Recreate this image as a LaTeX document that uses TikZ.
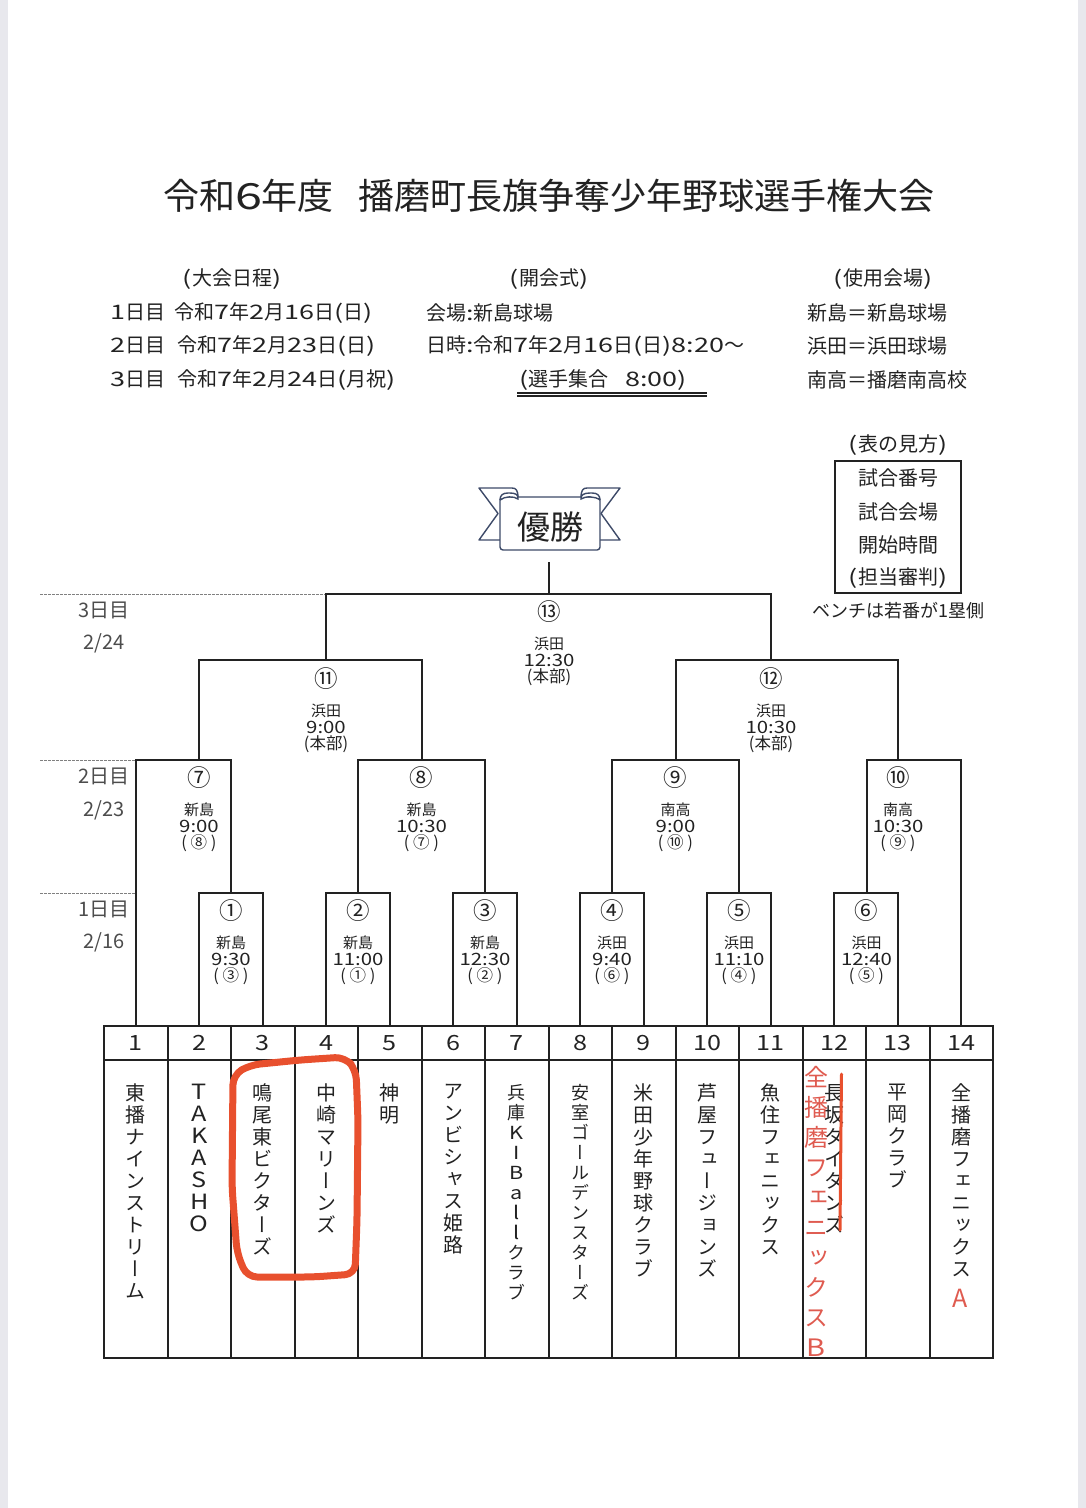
\documentclass[tikz,border=0pt]{standalone}
\usepackage{fontspec}
\setmainfont{Noto Sans CJK JP}
\newfontfamily\vfont[RawFeature={+vert}]{Noto Sans CJK JP}
\newfontfamily\wfont[FakeStretch=1.35]{Noto Sans CJK JP}
\newfontfamily\tfont[FakeStretch=1.2]{Noto Sans CJK JP}
\definecolor{inkcol}{HTML}{222222}
\definecolor{markred}{HTML}{E8502E}
\definecolor{penred}{HTML}{DF5B50}
\definecolor{ribbonblue}{HTML}{3D4A68}
\definecolor{edgegray}{HTML}{E8E8ED}
% digits and brackets are wide in this print
\newcommand\dg[1]{{\wfont #1}}
% one character per line, for the team names
\newcommand\vname[1]{\expandafter\vnamex#1\relax}
\def\vnamex#1{\ifx#1\relax\else\ifnum`#1<128 {\tfont #1}\else #1\fi\\\expandafter\vnamex\fi}
\tikzset{
    txt/.style={text=inkcol,inner sep=0pt,yshift=-.8pt,font=\fontsize{20}{24}\selectfont},
    txtl/.style={txt,anchor=west},
    day/.style={txt,text=black!70},
    bracket/.style={draw=inkcol,line width=2pt},
    grid/.style={draw=inkcol,line width=2pt},
    dayline/.style={draw=black!50,line width=.7pt,dash pattern=on 3pt off 1pt},
    gameno/.style={txt,font=\fontsize{23.5}{26}\selectfont},
    gameinfo/.style={txt,align=center,yshift=-.8pt,font=\fontsize{15}{16.5}\selectfont},
    teamnum/.style={txt,font=\tfont\fontsize{21}{24}\selectfont},
    ribbon/.style={draw=ribbonblue,line width=1.4pt},
    redmark/.style={draw=markred,line cap=round,line join=round},
    pentxt/.style={text=penred,inner sep=0pt,align=center,font=\vfont\fontsize{24}{30}\selectfont}
}
\begin{document}
\begin{tikzpicture}[x=1pt,y=-1pt]
    \useasboundingbox (0,0) rectangle (1086,1508);
    \fill[edgegray] (0,0) rectangle (7.5,1508);
    \fill[edgegray] (1077.5,0) rectangle (1086,1508);

    % title and schedule
    \node[txt,font=\fontsize{36}{40}\selectfont] (title) at (549,195) {令和\dg{6}年度\hspace{25pt}播磨町長旗争奪少年野球選手権大会};

    \node[txt] (sched) at (232,278) {\dg{(}大会日程\dg{)}};
    \node[txtl] (d1) at (110,312) {\dg{1}日目};
    \node[txtl] (d1t) at (174,312) {令和\dg{7}年\dg{2}月\dg{16}日\dg{(}日\dg{)}};
    \node[txtl] (d2) at (110,345) {\dg{2}日目};
    \node[txtl] (d2t) at (177,345) {令和\dg{7}年\dg{2}月\dg{23}日\dg{(}日\dg{)}};
    \node[txtl] (d3) at (110,379) {\dg{3}日目};
    \node[txtl] (d3t) at (177,379) {令和\dg{7}年\dg{2}月\dg{24}日\dg{(}月祝\dg{)}};

    \node[txt] (open) at (549,278) {\dg{(}開会式\dg{)}};
    \node[txtl] (place) at (426,312) {会場\dg{:}新島球場};
    \node[txtl] (when) at (426,345) {日時\dg{:}令和\dg{7}年\dg{2}月\dg{16}日\dg{(}日\dg{)8:20}～};
    \node[txt] (gather) at (603,379) {\dg{(}選手集合\hspace{17pt}\dg{8:00)}};
    \draw[inkcol,line width=1.6pt,double distance=1.2pt] (517,394.5) -- (707,394.5);

    \node[txt] (venue) at (883,278) {\dg{(}使用会場\dg{)}};
    \node[txtl] (v1) at (807,312) {新島＝新島球場};
    \node[txtl] (v2) at (807,345) {浜田＝浜田球場};
    \node[txtl] (v3) at (807,379) {南高＝播磨南高校};

    % legend
    \node[txt] (howto) at (898,444) {\dg{(}表の見方\dg{)}};
    \draw[inkcol,line width=1.8pt] (835,461) rectangle (961,593);
    \node[txt] (l1) at (898,477) {試合番号};
    \node[txt] (l2) at (898,511) {試合会場};
    \node[txt] (l3) at (898,544) {開始時間};
    \node[txt] (l4) at (898,577) {\dg{(}担当審判\dg{)}};
    \node[txt,font=\fontsize{18}{20}\selectfont] (bench) at (898,610) {ベンチは若番が1塁側};

    % banner
    \draw[ribbon,line join=round] (518,498) .. controls (518,490) and (516,488) .. (512,488) -- (479,488) -- (498,513.5) -- (479,540) -- (500,540);
    \draw[ribbon,line join=round] (581,498) .. controls (581,490) and (583,488) .. (587,488) -- (620,488) -- (601,513.5) -- (620,540) -- (600,540);
    \node[ribbon,fill=white,rounded corners=3pt,minimum width=100pt,minimum height=53pt,inner sep=0pt,text=inkcol,font=\fontsize{33}{36}\selectfont] (yusho) at (550,523.5) {\rule{0pt}{35pt}優勝};
    \draw[ribbon,fill=white] (500,500) .. controls (500,495) and (503,493) .. (508,493) -- (510,493) .. controls (516,493) and (518,495) .. (518,498) -- (518,499) .. controls (514,496) and (505,496) .. (500,500);
    \draw[ribbon,fill=white] (600,500) .. controls (600,495) and (597,493) .. (592,493) -- (590,493) .. controls (584,493) and (581,495) .. (581,498) -- (581,499) .. controls (585,496) and (595,496) .. (600,500);

    % day marks
    \coordinate (m3) at (40,594);
    \coordinate (m2) at (40,760);
    \coordinate (m1) at (40,893);
    \node[day] (day3) at (104,610) {3日目};
    \node[day] (date3) at (104,643) {2/24};
    \node[day] (day2) at (104,776) {2日目};
    \node[day] (date2) at (104,810) {2/23};
    \node[day] (day1) at (104,909) {1日目};
    \node[day] (date1) at (104,942) {2/16};

    % table
    \foreach \i/\tname/\tsz/\tskip [evaluate=\i as \xc using 72.25+63.5*\i] in {
        1/東播ナインストリーム/20/22,2/TAKASHO/21/22,3/鳴尾東ビクターズ/20/22,
        4/中崎マリーンズ/20/22,5/神明/20/22,6/アンビシャス姫路/20/22,
        7/兵庫KIBallクラブ/18/20,8/安室ゴールデンスターズ/18/20,
        9/米田少年野球クラブ/20/22,10/芦屋フュージョンズ/20/22,
        11/魚住フェニックス/20/22,12/長坂タイタンズ/20/22,
        13/平岡クラブ/20/22,14/全播磨フェニックス/20/22}{
        \coordinate (c\i) at (\xc,1026);
        \node[teamnum] (num\i) at (\xc,1042) {\i};
        \node[txt,anchor=north,align=center,font=\vfont\fontsize{\tsz}{\tskip}\selectfont] (team\i) at (\xc,1083) {\vname\tname};
    }
    \draw[grid] (104,1026) rectangle (993,1358);
    \draw[grid] (104,1060) -- (993,1060);
    \foreach \k [evaluate=\k as \xk using 104+63.5*\k] in {1,...,13}{
        \draw[grid] (\xk,1026) -- (\xk,1358);
    }

    % bracket joints
    \coordinate (j1) at (231,893);
    \coordinate (j2) at (358,893);
    \coordinate (j3) at (485,893);
    \coordinate (j4) at (612,893);
    \coordinate (j5) at (739,893);
    \coordinate (j6) at (866.5,893);
    \coordinate (j7) at (199,760);
    \coordinate (j8) at (421.5,760);
    \coordinate (j9) at (675.5,760);
    \coordinate (j10) at (898,760);
    \coordinate (j11) at (326,660);
    \coordinate (j12) at (771,660);
    \coordinate (j13) at (549,594);

    \draw[dayline] (m3) -- (j11 |- m3);
    \draw[dayline] (m2) -- (c1 |- m2);
    \draw[dayline] (m1) -- (c1 |- m1);

    \draw[bracket] (c2) |- (j1) -| (c3);
    \draw[bracket] (c4) |- (j2) -| (c5);
    \draw[bracket] (c6) |- (j3) -| (c7);
    \draw[bracket] (c8) |- (j4) -| (c9);
    \draw[bracket] (c10) |- (j5) -| (c11);
    \draw[bracket] (c12) |- (j6) -| (c13);
    \draw[bracket] (c1) |- (j7) -| (j1);
    \draw[bracket] (j2) |- (j8) -| (j3);
    \draw[bracket] (j4) |- (j9) -| (j5);
    \draw[bracket] (j6) |- (j10) -| (c14);
    \draw[bracket] (j7) |- (j11) -| (j8);
    \draw[bracket] (j9) |- (j12) -| (j10);
    \draw[bracket] (j11) |- (j13) -| (j12);
    \draw[bracket,shorten >=11pt] (j13) -- (j13 |- yusho.south);

    % games
    \foreach \n/\x/\y/\mark/\place/\tm/\ump in {
        1/231/910/①/新島/9:30/( ③ ),2/358/910/②/新島/11:00/( ① ),
        3/485/910/③/新島/12:30/( ② ),4/612/910/④/浜田/9:40/( ⑥ ),
        5/739/910/⑤/浜田/11:10/( ④ ),6/866.5/910/⑥/浜田/12:40/( ⑤ ),
        7/199/777/⑦/新島/9:00/( ⑧ ),8/421.5/777/⑧/新島/10:30/( ⑦ ),
        9/675.5/777/⑨/南高/9:00/( ⑩ ),10/898/777/⑩/南高/10:30/( ⑨ ),
        11/326/678/⑪/浜田/9:00/(本部),12/771/678/⑫/浜田/10:30/(本部),
        13/549/611/⑬/浜田/12:30/(本部)}{
        \node[gameno] (n\n) at (\x,\y) {\mark};
        \node[gameinfo] (g\n) at (\x,\y+49) {\place\\{\tfont\fontsize{17}{16.5}\selectfont\tm}\\{\fontsize{16.5}{16.5}\selectfont\ump}};
    }

    % pen marks
    \draw[redmark,line width=7pt,rounded corners=10pt] (233,1075) -- (250,1065) -- (300,1060) -- (345,1057) -- (356,1070) -- (358,1120) -- (357,1220) -- (355,1274) -- (313,1277) -- (247,1277) -- (237,1253) -- (232,1187) -- cycle;
    \draw[redmark,line width=3pt] (841.5,1074) -- (840,1230);
    \node[pentxt,anchor=north] (teamB) at (816,1066) {\vname{全播磨フェニックスB}};
    \node[text=penred,inner sep=0pt,font=\fontsize{25}{26}\selectfont] (teamA) at (960,1298) {A};
\end{tikzpicture}
\end{document}
